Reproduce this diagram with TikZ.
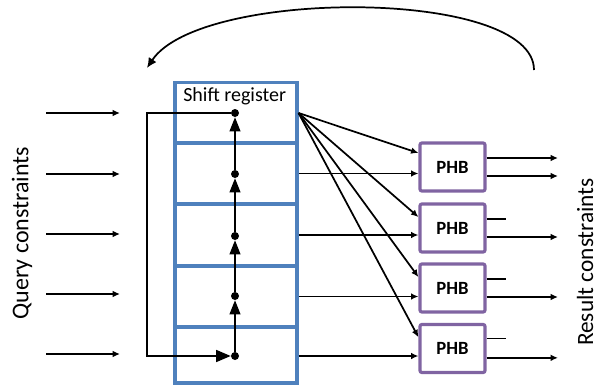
\documentclass[tikz,border=0pt]{standalone}
\usepackage{fontspec}
\setmainfont{Carlito}
\usepackage{tikz}
\usetikzlibrary{arrows.meta,%
                shapes,positioning}
\definecolor{regblue}{RGB}{79,129,189}
\definecolor{phbpurple}{RGB}{128,100,162}
\tikzset{cell/.style={draw=regblue,line width=2.3pt,minimum width=91.5pt,minimum height=45.75pt,inner sep=0pt},
         phb/.style={draw=phbpurple,line width=2.4pt,rounded corners=1.5pt,minimum width=48.75pt,minimum height=36pt,font=\fontsize{14}{16}\selectfont\bfseries},
         dot/.style={circle,fill=black,inner sep=0pt,minimum size=6pt},
         arr/.style={line width=1.3pt,-{Latex[length=5.5pt,width=5pt]}},
         up/.style={line width=1.3pt,-{Triangle[length=10.5pt,width=8pt]}}}

\begin{document}
\begin{tikzpicture}[x=0.75pt,y=-0.75pt]
\useasboundingbox (0,0) rectangle (600,389);
\node[cell] (r1) at (236,113) {};
\node[cell] (r2) at (236,173.5) {};
\node[cell] (r3) at (236,235) {};
\node[cell] (r4) at (236,296.5) {};
\node[cell,minimum height=42pt] (r5) at (236,355) {};
\node[anchor=base west,inner sep=0pt,font=\fontsize{15}{17}\selectfont] (title) at (183,101) {Shift register};
\node[dot] (d1) at (235,113) {};
\node[dot] (d2) at (235,174) {};
\node[dot] (d3) at (235,236) {};
\node[dot] (d4) at (235,296) {};
\node[dot] (d5) at (235,356) {};
\draw[up] (d5) -- (d4);
\draw[up] (d4) -- (d3);
\draw[up] (d3) -- (d2);
\draw[up] (d2) -- (d1);
\coordinate (fb) at (147,113);
\draw[line width=1.3pt,-{Triangle[length=11pt,width=9pt]}] (d1) -- (fb) |- (d5);
\node[phb] (p1) at (452.5,167) {PHB};
\node[phb] (p2) at (452.5,228) {PHB};
\node[phb] (p3) at (452.5,288) {PHB};
\node[phb] (p4) at (452.5,348.5) {PHB};
\draw[arr] (r1.east) -- ([yshift=10.5pt]p1.west);
\draw[arr] (r1.east) -- ([yshift=8.25pt]p2.west);
\draw[arr] (r1.east) -- ([yshift=8.25pt]p3.west);
\draw[arr] (r1.east) -- ([yshift=8.5pt]p4.west);
\draw[arr] (r2.east) -- (r2.east -| p1.west);
\draw[arr] (r3.east) -- (r3.east -| p2.west);
\draw[arr] (r4.east) -- (r4.east -| p3.west);
\draw[arr] ([yshift=-0.75pt]r5.east) -- ([yshift=-0.75pt]r5.east -| p4.west);
\coordinate (ox) at (558,0);
\coordinate (sx) at (506,0);
\draw[arr] ([yshift=6.75pt]p1.east) -- ([yshift=6.75pt]p1.east -| ox);
\draw[arr] ([yshift=-6.75pt]p1.east) -- ([yshift=-6.75pt]p1.east -| ox);
\draw[line width=1.3pt] ([yshift=6.75pt]p2.east) -- ([yshift=6.75pt]p2.east -| sx);
\draw[arr] ([yshift=-6.75pt]p2.east) -- ([yshift=-6.75pt]p2.east -| ox);
\draw[line width=1.3pt] ([yshift=6.75pt]p3.east) -- ([yshift=6.75pt]p3.east -| sx);
\draw[arr] ([yshift=-6.75pt]p3.east) -- ([yshift=-6.75pt]p3.east -| ox);
\draw[line width=1.3pt] ([yshift=7.5pt]p4.east) -- ([yshift=7.5pt]p4.east -| sx);
\draw[arr] ([yshift=-7pt]p4.east) -- ([yshift=-7pt]p4.east -| ox);
\coordinate (q1) at (46,113);  \coordinate (q1e) at (120,113);
\coordinate (q2) at (46,174);  \coordinate (q2e) at (120,174);
\coordinate (q3) at (46,234);  \coordinate (q3e) at (120,234);
\coordinate (q4) at (46,294);  \coordinate (q4e) at (120,294);
\coordinate (q5) at (46,354);  \coordinate (q5e) at (120,354);
\draw[arr] (q1) -- (q1e);
\draw[arr] (q2) -- (q2e);
\draw[arr] (q3) -- (q3e);
\draw[arr] (q4) -- (q4e);
\draw[arr] (q5) -- (q5e);
\node[rotate=90,inner sep=0pt,font=\fontsize{18}{20}\selectfont] (query) at (22,233) {Query constraints};
\node[rotate=90,inner sep=0pt,font=\fontsize{17.5}{20}\selectfont] (result) at (585,262) {Result constraints};
\coordinate (loopa) at (534,70);
\coordinate (loopb) at (147,68);
\draw[line width=1.3pt,-{Latex[length=7.5pt,width=7pt]}] (loopa) .. controls (534,-12) and (200,-12) .. (loopb);
\end{tikzpicture}
\end{document}
